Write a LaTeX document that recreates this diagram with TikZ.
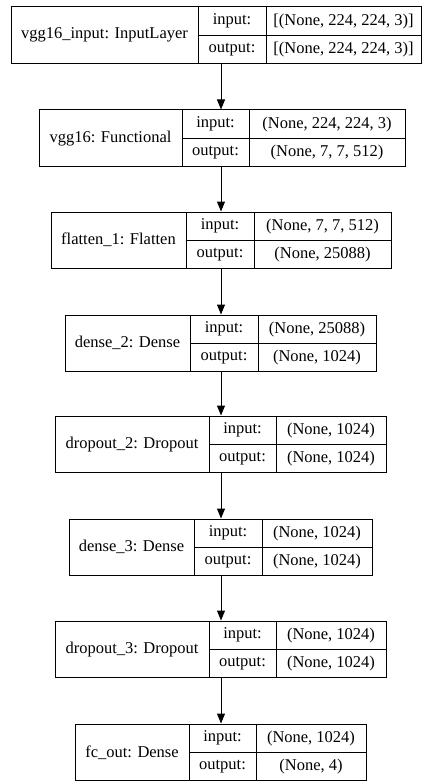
\documentclass[tikz,border=0pt]{standalone}
\usepackage{fontspec}
\setmainfont{Liberation Serif}
\usetikzlibrary{arrows.meta}
\tikzset{
  cell/.style={draw=black, line width=1pt, inner sep=0pt, fill=white,
    font=\fontsize{16.5}{18}\selectfont, text=black},
  arr/.style={draw=black, line width=1pt, -{Triangle[length=10pt,width=8pt]}}
}
% #1 name, #2 x1, #3 xa, #4 xb, #5 x2, #6 ytop, #7 label, #8 input, #9 output
\newcommand\gvlayer[9]{%
  \node[cell, minimum width={#3-#2}, minimum height=56.5] (#1) at ({(#2+#3)/2},{#6+28.25}) {#7};
  \node[cell, minimum width={#4-#3}, minimum height=28.25] (#1-il) at ({(#3+#4)/2},{#6+14.125}) {input:};
  \node[cell, minimum width={#5-#4}, minimum height=28.25] (#1-iv) at ({(#4+#5)/2},{#6+14.125}) {#8};
  \node[cell, minimum width={#4-#3}, minimum height=28.25] (#1-ol) at ({(#3+#4)/2},{#6+42.375}) {output:};
  \node[cell, minimum width={#5-#4}, minimum height=28.25] (#1-ov) at ({(#4+#5)/2},{#6+42.375}) {#9};
}
\begin{document}
\begin{tikzpicture}[x=1pt, y=-1pt]
\useasboundingbox (0,0) rectangle (422,781);
\fill[white] (0,0) rectangle (422,781);
\coordinate (spine) at (221,0);
\gvlayer{l1}{11}{198}{266}{421}{7}{vgg16\_input: InputLayer}{[(None, 224, 224, 3)]}{[(None, 224, 224, 3)]}
\gvlayer{l2}{39}{182}{249}{405}{110}{vgg16: Functional}{(None, 224, 224, 3)}{(None, 7, 7, 512)}
\gvlayer{l3}{51}{186}{254}{391}{212}{flatten\_1: Flatten}{(None, 7, 7, 512)}{(None, 25088)}
\gvlayer{l4}{65}{190}{258}{376}{315}{dense\_2: Dense}{(None, 25088)}{(None, 1024)}
\gvlayer{l5}{55}{209}{276}{386}{416}{dropout\_2: Dropout}{(None, 1024)}{(None, 1024)}
\gvlayer{l6}{69}{194}{262}{372}{519}{dense\_3: Dense}{(None, 1024)}{(None, 1024)}
\gvlayer{l7}{55}{209}{276}{386}{621}{dropout\_3: Dropout}{(None, 1024)}{(None, 1024)}
\gvlayer{l8}{75}{189}{256}{366}{724}{fc\_out: Dense}{(None, 1024)}{(None, 4)}
\draw[arr] (l1.south -| spine) -- (l2.north -| spine);
\draw[arr] (l2.south -| spine) -- (l3.north -| spine);
\draw[arr] (l3.south -| spine) -- (l4.north -| spine);
\draw[arr] (l4.south -| spine) -- (l5.north -| spine);
\draw[arr] (l5.south -| spine) -- (l6.north -| spine);
\draw[arr] (l6.south -| spine) -- (l7.north -| spine);
\draw[arr] (l7.south -| spine) -- (l8.north -| spine);
\end{tikzpicture}
\end{document}
